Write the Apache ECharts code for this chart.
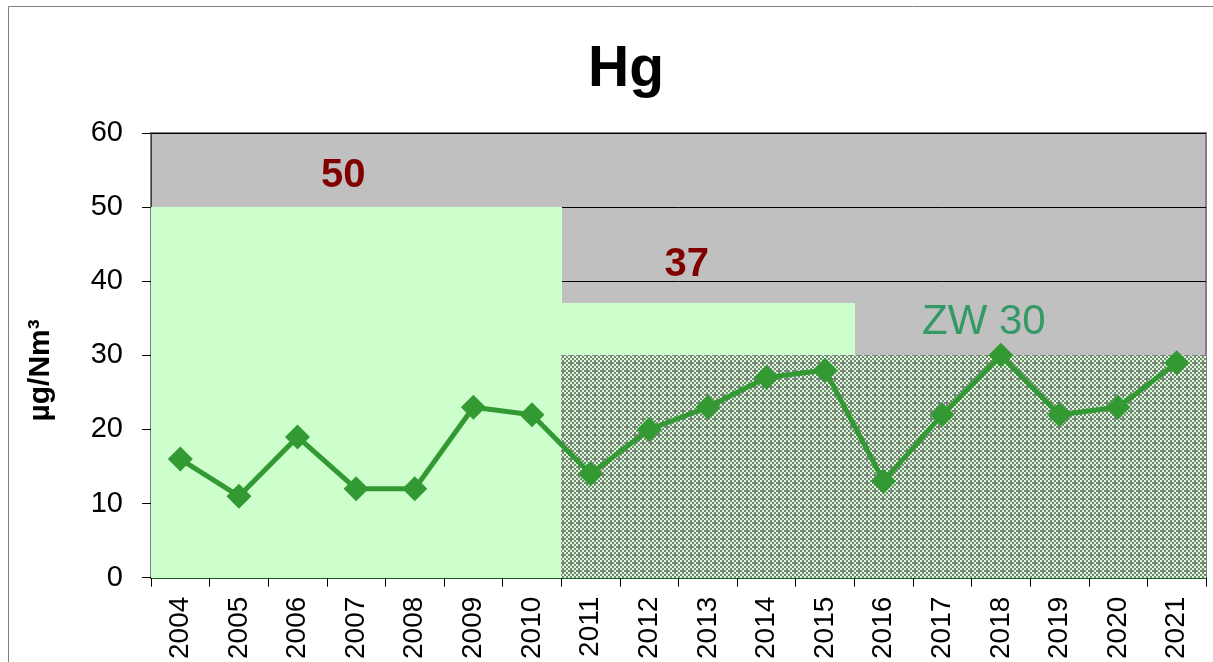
<!DOCTYPE html>
<html>
<head>
<meta charset="utf-8">
<script src="https://cdn.jsdelivr.net/npm/echarts@6/dist/echarts.min.js"></script>
<style>
  html, body { margin: 0; padding: 0; background: #fff; }
  #chart { width: 1213px; height: 662px; }
</style>
</head>
<body>
<div id="chart"></div>
<script>
var years = ['2004', '2005', '2006', '2007', '2008', '2009', '2010', '2011', '2012',
  '2013', '2014', '2015', '2016', '2017', '2018', '2019', '2020', '2021']
var hgValues = [16, 11, 19, 12, 12, 23, 22, 14, 20, 23, 27, 28, 13, 22, 30, 22, 23, 29]
var limitValues = [50, 50, 50, 50, 50, 50, 50, 37, 37, 37, 37, 37, 30, 30, 30, 30, 30, 30]
var zwValues = [null, null, null, null, null, null, null, 30, 30, 30, 30, 30, 30, 30, 30, 30, 30, 30]
var yTicks = { min: 0, max: 60, interval: 10 }
var notes = [
  { text: '50', year: '2007', value: 54.2, dx: -13, color: '#800000', weight: 'bold', size: 40 },
  { text: '37', year: '2013', value: 42.2, dx: -21, color: '#800000', weight: 'bold', size: 40 },
  { text: 'ZW 30', year: '2018', value: 34.5, dx: -17, color: '#339966', weight: 'normal', size: 42 }
]

// dotted pattern for the ZW area
function makePattern() {
  var c = document.createElement('canvas')
  c.width = 8
  c.height = 8
  var ctx = c.getContext('2d')
  for (var i = 0; i < 4; i++) {
    for (var j = 0; j < 4; j++) {
      var grey = (i + j) % 2 === 1 || (i === 1 && j === 1)
      ctx.fillStyle = grey ? '#808080' : '#CCFFCC'
      ctx.fillRect(i * 2, j * 2, 2, 2)
    }
  }
  return c
}
var pattern = makePattern()

// full-width block per category, snapped outward to whole pixels so no seams show
function blockRenderer(fill) {
  return function (params, api) {
    var idx = api.value(0)
    var v = api.value(1)
    var top = api.coord([idx, v])
    var bottom = api.coord([idx, 0])
    var w = api.size([1, 0])[0]
    var x0 = Math.floor(top[0] - w / 2)
    var x1 = Math.ceil(top[0] + w / 2)
    var y0 = Math.round(top[1])
    var y1 = Math.round(bottom[1])
    return {
      type: 'rect',
      shape: { x: x0, y: y0, width: x1 - x0, height: y1 - y0 },
      style: { fill: fill }
    }
  }
}

function pairs(arr) {
  var out = []
  arr.forEach(function (v, i) {
    if (v != null) out.push([i, v])
  })
  return out
}

var chart = echarts.init(document.getElementById('chart'))
var font = 'Liberation Sans, Arial, sans-serif'

var option = {
  animation: false,
  title: {
    text: 'Hg',
    left: 621,
    top: 37,
    textAlign: 'center',
    textStyle: { fontFamily: font, fontSize: 57, fontWeight: 'bold', color: '#000' }
  },
  graphic: [
    {
      type: 'rect',
      shape: { x: 8.5, y: 6.5, width: 1220, height: 670 },
      style: { fill: 'none', stroke: '#808080', lineWidth: 1 },
      z: -10
    }
  ],
  grid: {
    left: 151,
    right: 7,
    top: 133,
    bottom: 84,
    show: true,
    backgroundColor: '#C0C0C0',
    borderColor: '#808080',
    borderWidth: 2
  },
  xAxis: {
    type: 'category',
    data: years,
    boundaryGap: true,
    axisLine: { show: true, lineStyle: { color: '#1a5e1a', width: 2 } },
    axisTick: { show: true, length: 9, inside: false, lineStyle: { color: '#000', width: 1 } },
    axisLabel: {
      rotate: 90,
      interval: 0,
      margin: 19,
      fontFamily: font,
      fontSize: 28,
      color: '#000'
    },
    splitLine: { show: false }
  },
  yAxis: {
    type: 'value',
    min: yTicks.min,
    max: yTicks.max,
    interval: yTicks.interval,
    name: 'µg/Nm³',
    nameLocation: 'middle',
    nameRotate: 90,
    nameGap: 95,
    nameTextStyle: { fontFamily: font, fontSize: 30, fontWeight: 'bold', color: '#000', padding: [0, 30, 0, 0] },
    axisLine: { show: true, lineStyle: { color: '#404040', width: 1 } },
    axisTick: { show: true, length: 9, lineStyle: { color: '#000' } },
    axisLabel: { margin: 28, fontFamily: font, fontSize: 29, color: '#000' },
    splitLine: { show: true, lineStyle: { color: '#000', width: 1 } }
  },
  series: [
    {
      type: 'custom',
      data: pairs(limitValues),
      renderItem: blockRenderer('#CCFFCC'),
      silent: true,
      z: 1
    },
    {
      type: 'custom',
      data: pairs(zwValues),
      renderItem: blockRenderer({ image: pattern, repeat: 'repeat' }),
      silent: true,
      z: 2
    },
    {
      type: 'line',
      data: hgValues,
      symbol: 'diamond',
      symbolSize: 25,
      lineStyle: { color: '#339933', width: 5 },
      itemStyle: { color: '#339933' },
      z: 5,
      markPoint: {
        symbol: 'circle',
        symbolSize: 0,
        data: notes.map(function (n) {
          return {
            coord: [n.year, n.value],
            label: {
              show: true,
              formatter: n.text,
              offset: [n.dx, 0],
              fontFamily: font,
              fontSize: n.size,
              fontWeight: n.weight,
              color: n.color
            }
          }
        })
      }
    }
  ]
}

chart.setOption(option)
</script>
</body>
</html>
